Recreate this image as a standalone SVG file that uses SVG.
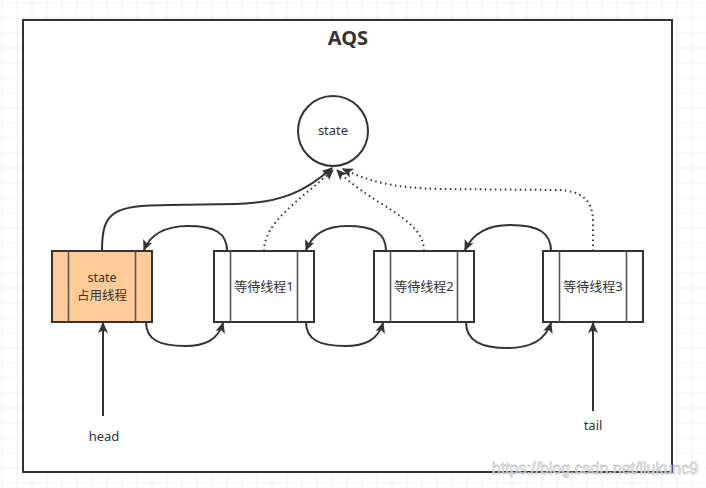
<svg xmlns="http://www.w3.org/2000/svg" width="706" height="488" viewBox="0 0 706 488">
<defs>
<pattern id="grid" x="1.5" y="2.5" width="15" height="15" patternUnits="userSpaceOnUse">
<path d="M0,0 H15 M0,0 V15" fill="none" stroke="#e4e4e4" stroke-width="1"/>
</pattern>
<marker id="arr" viewBox="0 0 10 10" refX="9" refY="5" markerWidth="11" markerHeight="11" markerUnits="userSpaceOnUse" orient="auto">
<path d="M0,0.5 L10,5 L0,9.5 L2.5,5 Z" fill="#333"/>
</marker>
<style>
.ln{fill:none;stroke:#333;stroke-width:2}
.dot{fill:none;stroke:#333;stroke-width:2;stroke-dasharray:1.5 3.5;stroke-linecap:butt}
.box{stroke:#333;stroke-width:2}
.bar{stroke:#555;stroke-width:1.6}
.t{font-family:"Noto Sans","Noto Sans CJK SC",sans-serif;font-size:13px;fill:#333;text-anchor:middle}
</style>
</defs>
<rect width="706" height="488" fill="#fff"/>
<rect width="706" height="488" fill="url(#grid)"/>
<g id="aqs">
<rect x="23" y="20" width="649" height="452" fill="#fff" stroke="#333" stroke-width="2"/>
<text x="348" y="45" style="font-family:'Noto Sans','Noto Sans CJK SC',sans-serif;font-size:20px;font-weight:bold;fill:#333;text-anchor:middle">AQS</text>
</g>
<g id="state">
<circle cx="333" cy="131" r="35" fill="#fff" class="box"/>
<text class="t" x="333" y="135">state</text>
</g>
<g id="head-node">
<rect x="52" y="251" width="100" height="71" fill="#ffcc99" class="box"/>
<line class="bar" x1="68.5" y1="251" x2="68.5" y2="322"/>
<line class="bar" x1="135.5" y1="251" x2="135.5" y2="322"/>
<text class="t" x="102" y="282" style="font-size:12.5px">state</text>
<text class="t" x="102" y="300" style="font-size:12.5px">占用线程</text>
</g>
<g id="node1">
<rect x="214" y="251" width="100" height="71" fill="#fff" class="box"/>
<line class="bar" x1="230.5" y1="251" x2="230.5" y2="322"/>
<line class="bar" x1="297.5" y1="251" x2="297.5" y2="322"/>
<text class="t" x="264" y="291">等待线程1</text>
</g>
<g id="node2">
<rect x="374" y="251" width="100" height="71" fill="#fff" class="box"/>
<line class="bar" x1="390.5" y1="251" x2="390.5" y2="322"/>
<line class="bar" x1="457.5" y1="251" x2="457.5" y2="322"/>
<text class="t" x="424" y="291">等待线程2</text>
</g>
<g id="node3">
<rect x="543" y="251" width="100" height="71" fill="#fff" class="box"/>
<line class="bar" x1="559.5" y1="251" x2="559.5" y2="322"/>
<line class="bar" x1="626.5" y1="251" x2="626.5" y2="322"/>
<text class="t" x="593" y="291">等待线程3</text>
</g>
<g id="head-label"><text class="t" x="104" y="441">head</text></g>
<g id="tail-label"><text class="t" x="593" y="430">tail</text></g>
<g id="connectors">
<path class="ln" marker-end="url(#arr)" d="M102,251 C102,212 112,205 170,205 L235,204 C280,203 305,192 332,168"/>
<path class="dot" marker-end="url(#arr)" d="M264,251 C264,222 300,200 333,170"/>
<path class="dot" marker-end="url(#arr)" d="M424,251 C424,218 372,206 337,170"/>
<path class="dot" marker-end="url(#arr)" d="M593,251 L593,222 C593,200 582,191 558,190 L440,189 C395,188 370,182 343,169"/>
<path class="ln" marker-end="url(#arr)" d="M227,251 C227,233 215,226 188,226 C165,226 150,235 144,250"/>
<path class="ln" marker-end="url(#arr)" d="M386,251 C386,233 374,226 347,226 C324,226 312,235 306,250"/>
<path class="ln" marker-end="url(#arr)" d="M551,251 C551,233 539,225 510,225 C486,225 472,235 465,250"/>
<path class="ln" marker-end="url(#arr)" d="M146,322 C146,340 160,346 185,346 C205,346 218,340 223,323"/>
<path class="ln" marker-end="url(#arr)" d="M306,322 C306,340 320,346 345,346 C365,346 378,340 383,323"/>
<path class="ln" marker-end="url(#arr)" d="M466,322 C466,341 481,348 508,348 C530,348 545,341 551,323"/>
<path class="ln" marker-end="url(#arr)" d="M103,416 L103,323"/>
<path class="ln" marker-end="url(#arr)" d="M593,411 L593,323"/>
</g>
<text x="595" y="474" style="font-family:'Liberation Sans',sans-serif;font-size:16px;fill:#fff;fill-opacity:0.6;stroke:#c8c8c8;stroke-width:0.8;text-anchor:middle">https://blog.csdn.net/liukunc9</text>
</svg>
